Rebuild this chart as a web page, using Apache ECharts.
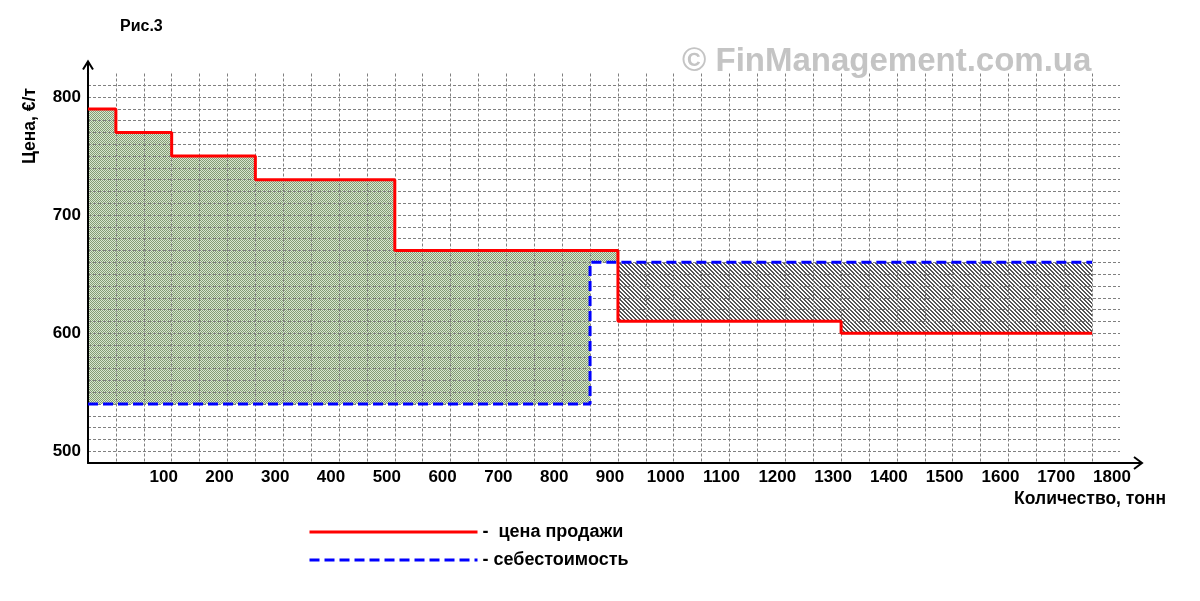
<!DOCTYPE html>
<html>
<head>
<meta charset="utf-8">
<script src="https://cdn.jsdelivr.net/npm/echarts@6/dist/echarts.min.js"></script>
<style>
html,body{margin:0;padding:0;background:#fff;}
#main{width:1200px;height:601px;}
</style>
</head>
<body>
<div id="main"></div>
<script>
// ---- data ----
const priceBreaks = [-50, 0, 100, 250, 500, 900, 1300, 1750];
const prices = [790, 770, 750, 730, 670, 610, 600];
const costBreaks = [-50, 850, 1750];
const costs = [540, 660];
const xTickLabels = [100, 200, 300, 400, 500, 600, 700, 800, 900, 1000, 1100, 1200, 1300, 1400, 1500, 1600, 1700, 1800];
const yTickLabels = [500, 600, 700, 800];
const seriesNames = ['цена продажи', 'себестоимость'];

// ---- derived ----
function stepData(breaks, vals) {
  const d = vals.map((v, i) => [breaks[i], v]);
  d.push([breaks[breaks.length - 1], vals[vals.length - 1]]);
  return d;
}
function valAt(breaks, vals, x) {
  for (let i = 0; i < vals.length; i++) if (x >= breaks[i] && x < breaks[i + 1]) return vals[i];
  return vals[vals.length - 1];
}
const allBreaks = Array.from(new Set(priceBreaks.concat(costBreaks))).sort((a, b) => a - b);
const segments = [];
for (let i = 0; i < allBreaks.length - 1; i++) {
  const x0 = allBreaks[i], x1 = allBreaks[i + 1];
  const p = valAt(priceBreaks, prices, x0), c = valAt(costBreaks, costs, x0);
  segments.push([x0, x1, Math.max(p, c), Math.min(p, c), p > c ? 1 : 0]);
}

// ---- patterns ----
function makePattern(kind) {
  const cv = document.createElement('canvas');
  cv.width = 4; cv.height = 4;
  const ctx = cv.getContext('2d');
  for (let y = 0; y < 4; y++) for (let x = 0; x < 4; x++) {
    let dark;
    if (kind === 1) dark = (x + y) % 2 === 0;
    else dark = ((x - y + 8) % 4) < 2;
    ctx.fillStyle = kind === 1 ? (dark ? '#849c74' : '#d8e8d0') : (dark ? '#555555' : '#ffffff');
    ctx.fillRect(x, y, 1, 1);
  }
  return { image: cv, repeat: 'repeat' };
}
const greenPat = makePattern(1);
const greyPat = makePattern(0);

const chart = echarts.init(document.getElementById('main'));
const FONT = '"Liberation Sans", Arial, sans-serif';
const gridLine = { color: '#808080', width: 1, type: [3, 2] };

chart.setOption({
  animation: false,
  backgroundColor: '#fff',
  grid: { left: 88, right: 80, top: 73.5, bottom: 138, containLabel: false },
  xAxis: {
    type: 'value', min: -50, max: 1800, interval: 50, z: 3,
    axisLine: { show: true, onZero: false, lineStyle: { color: '#000', width: 2 } },
    axisTick: { show: false },
    splitLine: { show: true, showMinLine: false, showMaxLine: false, lineStyle: gridLine },
    axisLabel: {
      margin: 6, color: '#000', fontFamily: FONT, fontWeight: 'bold', fontSize: 17,
      padding: [0, 16, 0, 0],
      formatter: v => xTickLabels.indexOf(v) >= 0 ? String(v) : ''
    }
  },
  yAxis: {
    type: 'value', min: 490, max: 820, interval: 10, z: 3,
    axisLine: { show: true, onZero: false, lineStyle: { color: '#000', width: 2 } },
    axisTick: { show: false },
    splitLine: { show: true, showMinLine: false, showMaxLine: false, lineStyle: gridLine },
    axisLabel: {
      margin: 7, color: '#000', fontFamily: FONT, fontWeight: 'bold', fontSize: 17,
      formatter: v => yTickLabels.indexOf(v) >= 0 ? String(v) : ''
    }
  },
  legend: {
    data: seriesNames, orient: 'vertical', left: 303, top: 518,
    itemWidth: 168, itemHeight: 14, itemGap: 10,
    itemStyle: { opacity: 0 },
    lineStyle: { width: 3 },
    formatter: n => (n === seriesNames[0] ? '-  ' : '- ') + n,
    textStyle: { color: '#000', fontFamily: FONT, fontWeight: 'bold', fontSize: 18 }
  },
  series: [
    {
      type: 'custom', name: 'fill', z: 1, silent: true,
      data: segments,
      encode: { x: [0, 1], y: [2, 3] },
      renderItem: (params, api) => {
        const p0 = api.coord([api.value(0), api.value(2)]);
        const p1 = api.coord([api.value(1), api.value(3)]);
        return {
          type: 'rect',
          shape: { x: p0[0], y: p0[1], width: p1[0] - p0[0], height: p1[1] - p0[1] },
          style: { fill: api.value(4) === 1 ? greenPat : greyPat }
        };
      }
    },
    {
      type: 'line', name: seriesNames[1], step: 'end', z: 5, symbol: 'none',
      data: stepData(costBreaks, costs),
      lineStyle: { color: '#0000ff', width: 3, type: [10, 5] },
      itemStyle: { color: '#0000ff' }
    },
    {
      type: 'line', name: seriesNames[0], step: 'end', z: 6, symbol: 'none',
      data: stepData(priceBreaks, prices),
      lineStyle: { color: '#ff0000', width: 3 },
      itemStyle: { color: '#ff0000' }
    }
  ]
});

// axis arrows and texts
const origin = chart.convertToPixel({ gridIndex: 0 }, [-50, 490]);
const xEnd = chart.convertToPixel({ gridIndex: 0 }, [1800, 490]);
const yEnd = chart.convertToPixel({ gridIndex: 0 }, [-50, 820]);
const ax = Math.round(origin[0]), ay = Math.round(origin[1]);
chart.setOption({
  graphic: [
    { type: 'polyline', shape: { points: [[xEnd[0], ay], [xEnd[0] + 22, ay]] }, style: { stroke: '#000', lineWidth: 2 }, z: 10 },
    { type: 'polyline', shape: { points: [[xEnd[0] + 14, ay - 6], [xEnd[0] + 22, ay], [xEnd[0] + 14, ay + 6]] }, style: { stroke: '#000', lineWidth: 2, fill: null }, z: 10 },
    { type: 'polyline', shape: { points: [[ax, yEnd[1]], [ax, yEnd[1] - 12]] }, style: { stroke: '#000', lineWidth: 2 }, z: 10 },
    { type: 'polyline', shape: { points: [[ax - 5, yEnd[1] - 4], [ax, yEnd[1] - 12], [ax + 5, yEnd[1] - 4]] }, style: { stroke: '#000', lineWidth: 2, fill: null }, z: 10 },
    { type: 'text', left: 120, top: 19, style: { text: 'Рис.3', font: 'bold 16px ' + FONT, fill: '#000' } },
    { type: 'text', left: 682, top: 45, style: { text: '© FinManagement.com.ua', font: 'bold 33px ' + FONT, fill: '#c4c4c4' } },
    { type: 'text', x: 30, y: 126, rotation: Math.PI / 2, style: { text: 'Цена, €/т', font: 'bold 17.5px ' + FONT, fill: '#000', align: 'center', verticalAlign: 'middle' } },
    { type: 'text', x: 1166, y: 499, style: { text: 'Количество, тонн', font: 'bold 17.5px ' + FONT, fill: '#000', align: 'right', verticalAlign: 'middle' } }
  ]
});
</script>
</body>
</html>
